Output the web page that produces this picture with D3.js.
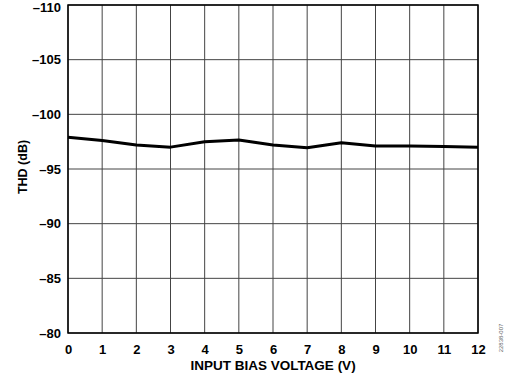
<!DOCTYPE html>
<html>
<head>
<meta charset="utf-8">
<script src="https://cdn.jsdelivr.net/npm/d3@7"></script>
<style>
  body { margin: 0; background: #fff; }
  svg { display: block; font-family: "Liberation Sans", Arial, sans-serif; }
</style>
</head>
<body>
<div id="chart"></div>
<script>
// THD vs input bias voltage
const biasVolts = [0, 1, 2, 3, 4, 5, 6, 7, 8, 9, 10, 11, 12];
const thdDb = [-97.9, -97.6, -97.2, -97.0, -97.5, -97.65, -97.2, -96.95, -97.4, -97.1, -97.1, -97.05, -97.0];
const xTicks = [0, 1, 2, 3, 4, 5, 6, 7, 8, 9, 10, 11, 12];
const yTicks = [-110, -105, -100, -95, -90, -85, -80];

const width = 505;
const height = 375;
const margin = { top: 5, right: 27, bottom: 42, left: 68 };

const svg = d3.select('#chart').append('svg')
  .attr('width', width)
  .attr('height', height);

const g = svg.append('g')
  .attr('transform', `translate(${margin.left},${margin.top})`);

const w = width - margin.left - margin.right;
const h = height - margin.top - margin.bottom;

const x = d3.scaleLinear().domain([0, 12]).range([0, w]);
// inverted: -110 at top, -80 at bottom
const y = d3.scaleLinear().domain([-110, -80]).range([0, h]);

const fmt = d => d < 0 ? '\u2013' + Math.abs(d) : String(d);

// grid
g.append('g')
  .selectAll('line')
  .data(xTicks)
  .join('line')
  .attr('x1', d => x(d)).attr('x2', d => x(d))
  .attr('y1', 0).attr('y2', h)
  .attr('stroke', '#444').attr('stroke-width', 1);

g.append('g')
  .selectAll('line')
  .data(yTicks)
  .join('line')
  .attr('x1', 0).attr('x2', w)
  .attr('y1', d => y(d)).attr('y2', d => y(d))
  .attr('stroke', '#444').attr('stroke-width', 1);

// frame
g.append('rect')
  .attr('width', w).attr('height', h)
  .attr('fill', 'none')
  .attr('stroke', '#000')
  .attr('stroke-width', 1.5);

// axes (labels only)
const xAxis = g.append('g')
  .attr('transform', `translate(0,${h})`)
  .call(d3.axisBottom(x).tickValues(xTicks).tickSize(0).tickPadding(12).tickFormat(fmt));
const yAxis = g.append('g')
  .call(d3.axisLeft(y).tickValues(yTicks).tickSize(0).tickPadding(7).tickFormat(fmt));

[xAxis, yAxis].forEach(a => {
  a.select('.domain').remove();
  a.selectAll('text')
    .attr('fill', '#000')
    .style('font-family', '"Liberation Sans", Arial, sans-serif')
    .style('font-size', '13px')
    .style('font-weight', 'bold');
});

// top label sits a bit lower so it isn't clipped
yAxis.selectAll('.tick text')
  .filter(d => d === -110)
  .attr('dy', '0.5em');

// data line
const line = d3.line()
  .x((d, i) => x(biasVolts[i]))
  .y(d => y(d));

g.append('path')
  .datum(thdDb)
  .attr('fill', 'none')
  .attr('stroke', '#000')
  .attr('stroke-width', 3)
  .attr('stroke-linejoin', 'round')
  .attr('d', line);

// axis titles
svg.append('text')
  .attr('x', margin.left + w / 2)
  .attr('y', 370)
  .attr('text-anchor', 'middle')
  .style('font-size', '13.5px')
  .style('font-weight', 'bold')
  .text('INPUT BIAS VOLTAGE (V)');

svg.append('text')
  .attr('transform', `translate(27,167) rotate(-90)`)
  .attr('text-anchor', 'middle')
  .style('font-size', '12.5px')
  .style('font-weight', 'bold')
  .text('THD (dB)');

// figure id
svg.append('text')
  .attr('transform', `translate(503,338) rotate(-90)`)
  .attr('text-anchor', 'middle')
  .attr('fill', '#666')
  .style('font-size', '6px')
  .text('22838-007');
</script>
</body>
</html>
